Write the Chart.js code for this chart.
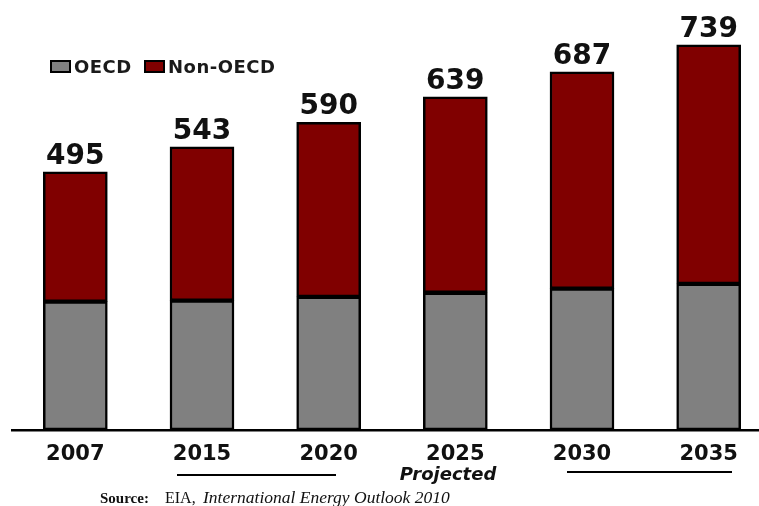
<!DOCTYPE html>
<html>
<head>
<meta charset="utf-8">
<script src="https://cdn.jsdelivr.net/npm/chart.js@4/dist/chart.umd.min.js"></script>
<style>
  html, body { margin: 0; padding: 0; background: #fff; overflow: hidden; }
  #wrap { position: relative; width: 772px; height: 506px; }
</style>
</head>
<body>
<div id="wrap"><canvas id="chart" width="772" height="506"></canvas></div>
<script>
// World energy consumption, quadrillion Btu
const years = ['2007', '2015', '2020', '2025', '2030', '2035'];
const oecd = [246, 248, 255, 263, 271, 280];
const nonOecd = [249, 295, 335, 376, 416, 459];
const totals = [495, 543, 590, 639, 687, 739];

const GRAY = '#808080';
const RED = '#800000';
const SANS = '"DejaVu Sans", Verdana, sans-serif';
const SERIF = '"Liberation Serif", "Times New Roman", serif';

// totals above each stacked bar
const totalLabels = {
  id: 'totalLabels',
  afterDatasetsDraw(chart) {
    const { ctx } = chart;
    const meta = chart.getDatasetMeta(1);
    ctx.save();
    ctx.font = `bold 28px ${SANS}`;
    ctx.fillStyle = '#111';
    ctx.textAlign = 'center';
    ctx.textBaseline = 'alphabetic';
    meta.data.forEach((bar, i) => {
      ctx.fillText(String(totals[i]), bar.x, bar.y - 8);
    });
    ctx.restore();
  },
};

// legend, "Projected" bracket and source line
const annotations = {
  id: 'annotations',
  afterDraw(chart) {
    const { ctx } = chart;
    ctx.save();

    // legend
    const items = [
      { text: 'OECD', color: GRAY, x: 51 },
      { text: 'Non-OECD', color: RED, x: 145 },
    ];
    ctx.font = `bold 18px ${SANS}`;
    ctx.letterSpacing = '0.5px';
    ctx.textBaseline = 'alphabetic';
    ctx.textAlign = 'left';
    items.forEach((it) => {
      ctx.fillStyle = it.color;
      ctx.fillRect(it.x, 61, 19, 11);
      ctx.strokeStyle = '#000';
      ctx.lineWidth = 2;
      ctx.strokeRect(it.x, 61, 19, 11);
      ctx.fillStyle = '#1a1a1a';
      ctx.fillText(it.text, it.x + 23, 73);
    });
    ctx.letterSpacing = '0px';

    // projected bracket
    ctx.strokeStyle = '#000';
    ctx.lineWidth = 2;
    ctx.beginPath();
    ctx.moveTo(177, 475);
    ctx.lineTo(336, 475);
    ctx.moveTo(567, 472);
    ctx.lineTo(732, 472);
    ctx.stroke();
    ctx.fillStyle = '#111';
    ctx.textAlign = 'center';
    ctx.font = `italic bold 18px ${SANS}`;
    ctx.fillText('Projected', 448, 480);

    // source
    ctx.textAlign = 'left';
    ctx.font = `bold 15px ${SERIF}`;
    ctx.fillText('Source:', 100, 503);
    ctx.font = `16px ${SERIF}`;
    ctx.fillText('EIA,', 165, 503);
    ctx.font = `italic 17.5px ${SERIF}`;
    ctx.fillText('International Energy Outlook 2010', 203, 503);

    ctx.restore();
  },
};

new Chart(document.getElementById('chart'), {
  type: 'bar',
  data: {
    labels: years,
    datasets: [
      {
        label: 'OECD',
        data: oecd,
        backgroundColor: GRAY,
        borderColor: '#000',
        borderWidth: 2.5,
        borderSkipped: false,
        barThickness: 64,
      },
      {
        label: 'Non-OECD',
        data: nonOecd,
        backgroundColor: RED,
        borderColor: '#000',
        borderWidth: 2.5,
        borderSkipped: false,
        barThickness: 64,
      },
    ],
  },
  options: {
    responsive: false,
    animation: false,
    layout: {
      padding: { top: 13, left: 12, right: 0, bottom: 35 },
    },
    plugins: {
      legend: { display: false },
      tooltip: { enabled: false },
    },
    scales: {
      x: {
        stacked: true,
        grid: { display: false },
        border: { display: true, color: '#000', width: 2.5 },
        ticks: {
          color: '#111',
          padding: 4,
          font: { family: SANS, size: 21, weight: 'bold' },
        },
      },
      y: {
        stacked: true,
        display: false,
        min: 0,
        max: 800,
      },
    },
  },
  plugins: [totalLabels, annotations],
});
</script>
</body>
</html>
